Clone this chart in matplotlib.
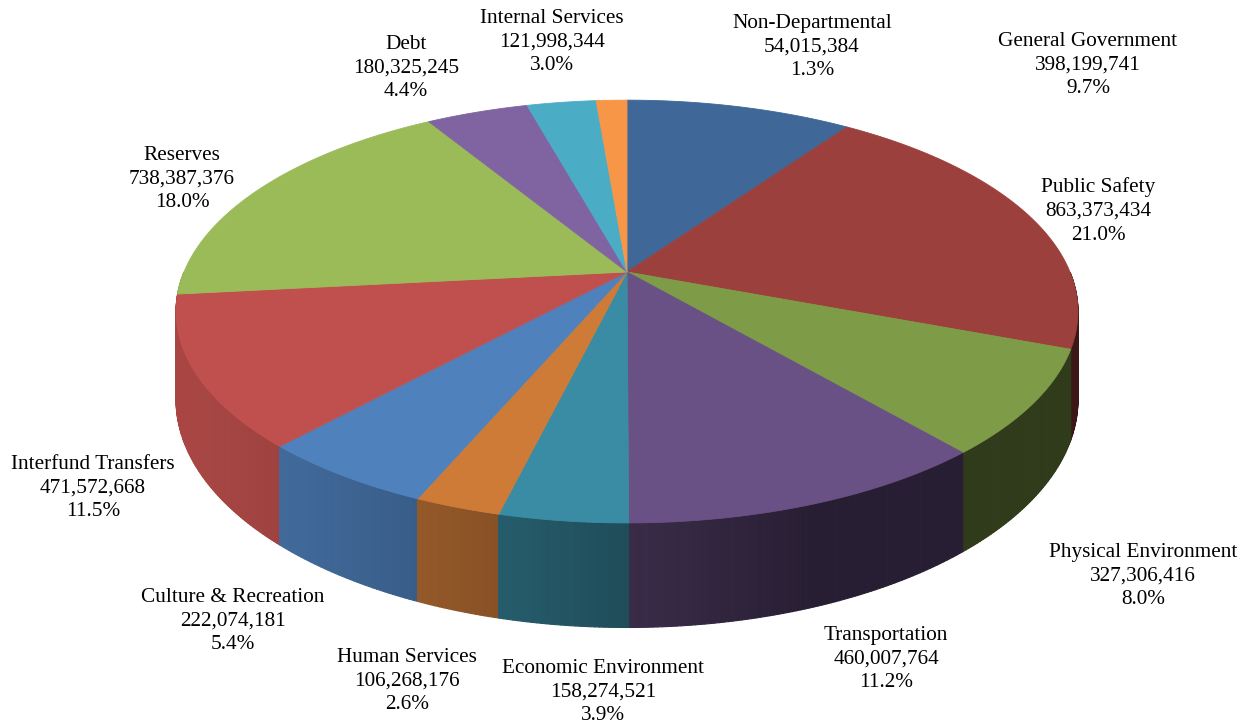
"""
3-D style pie of the budget by function, drawn with plain polygons.
"""

import numpy as np
import matplotlib.pyplot as plt
from matplotlib.collections import PolyCollection
from matplotlib.colors import to_rgb

categories = ["General Government", "Public Safety", "Physical Environment",
              "Transportation", "Economic Environment", "Human Services",
              "Culture & Recreation", "Interfund Transfers", "Reserves",
              "Debt", "Internal Services", "Non-Departmental"]
amounts = [398199741, 863373434, 327306416, 460007764, 158274521, 106268176,
           222074181, 471572668, 738387376, 180325245, 121998344, 54015384]
colors = ["#3F6797", "#9C403D", "#7E9B48", "#695085", "#398CA3", "#CE7B38",
          "#4F81BD", "#C0504D", "#9BBB59", "#8064A2", "#4BACC6", "#F79646"]

# label anchor (centre of the middle line) for each slice, in pixels
label_pos = [(1088, 65), (1098, 211), (1143, 576), (886, 659), (603, 692),
             (407, 681), (233, 621), (93, 488), (182, 179), (406, 68),
             (552, 42), (812, 47)]

W, H = 1251, 726
cx, cy = 627, 272      # apex of the pie
rx, ry = 443, 204      # radii of the disc before perspective
k = 0.187              # perspective strength
depth = 85             # thickness of the disc


def project(theta, drop=0.0):
    # theta runs clockwise from 12 o'clock; v > 0 is towards the viewer
    u = np.sin(theta)
    v = -np.cos(theta)
    w = 1 - k * v
    return cx + rx * u / w, cy + ry * v / w + drop * depth / w


def shade(theta):
    # light comes from the left, the right-hand side of the wall is darkest
    return 0.38 + 0.5 * max(0.0, np.cos(theta - np.radians(250)))


total = sum(amounts)
fracs = np.array(amounts) / total
edges = 2 * np.pi * np.concatenate([[0], np.cumsum(fracs)])

fig = plt.figure(figsize=(W / 100, H / 100), dpi=100)
ax = fig.add_axes([0, 0, 1, 1])
ax.set_xlim(0, W)
ax.set_ylim(H, 0)
ax.axis('off')

# outer wall, split into thin strips so the shading can vary
walls = []
for i, (t0, t1) in enumerate(zip(edges[:-1], edges[1:])):
    ts = np.linspace(t0, t1, max(2, int(np.degrees(t1 - t0) * 2)) + 1)
    base = np.array(to_rgb(colors[i]))
    for a, b in zip(ts[:-1], ts[1:]):
        mid = (a + b) / 2
        v = -np.cos(mid)
        if v <= 0:
            continue
        quad = [project(a), project(b), project(b, 1), project(a, 1)]
        walls.append((v, quad, tuple(base * shade(mid))))
walls.sort(key=lambda item: item[0])
ax.add_collection(PolyCollection([q for _, q, _ in walls],
                                 facecolors=[c for _, _, c in walls],
                                 edgecolors=[c for _, _, c in walls],
                                 linewidths=0.8))

# top face
tops = []
for t0, t1 in zip(edges[:-1], edges[1:]):
    ts = np.linspace(t0, t1, max(2, int(np.degrees(t1 - t0) * 2)) + 1)
    xs, ys = project(ts)
    tops.append([(cx, cy)] + list(zip(xs, ys)))
ax.add_collection(PolyCollection(tops, facecolors=colors, edgecolors=colors,
                                 linewidths=0.6))

for name, amount, frac, (lx, ly) in zip(categories, amounts, fracs, label_pos):
    ax.text(lx, ly, f"{name}\n{amount:,}\n{frac * 100:.1f}%",
            ha='center', va='center', ma='center', linespacing=1.35,
            fontsize=15.3, family='Liberation Serif', color='black')

fig.savefig('out.png', dpi=100)
